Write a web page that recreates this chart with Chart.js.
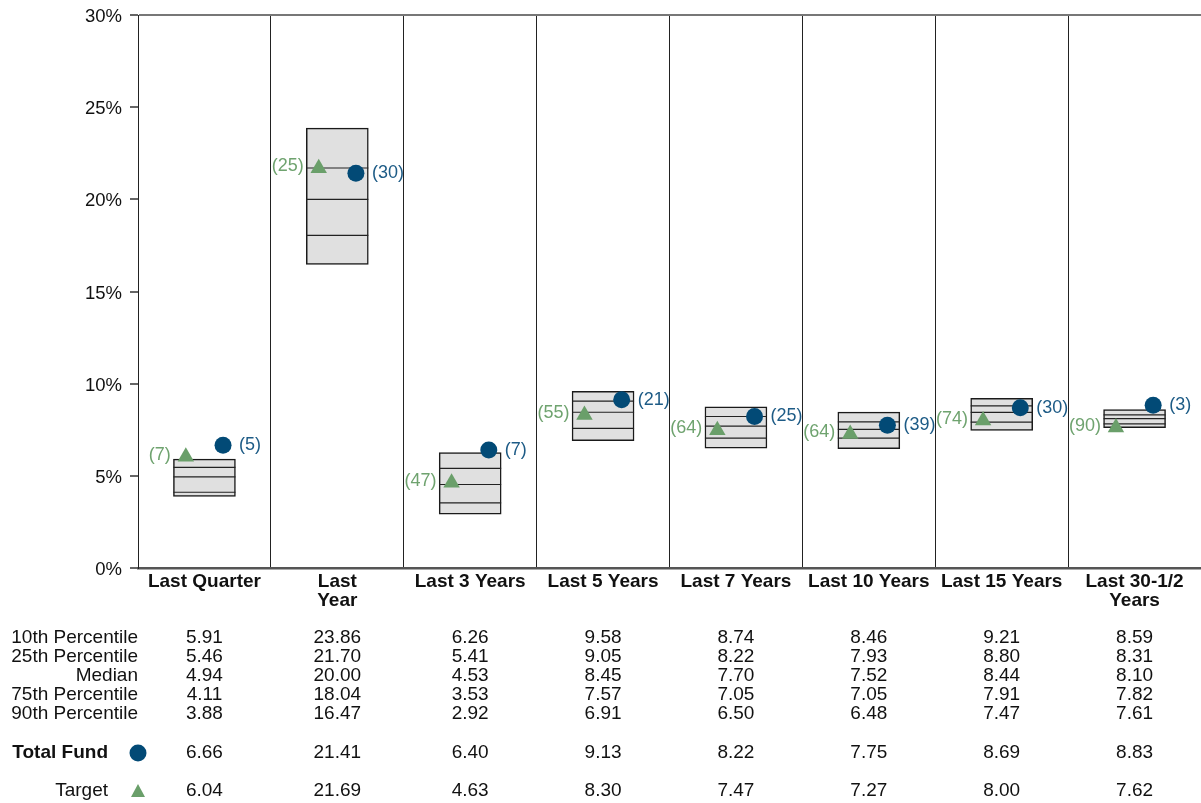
<!DOCTYPE html>
<html>
<head>
<meta charset="utf-8">
<script src="https://cdn.jsdelivr.net/npm/chart.js@4.4.1/dist/chart.umd.min.js"></script>
<style>
  html, body { margin: 0; padding: 0; background: #fff; }
  #wrap { width: 1201px; height: 803px; position: relative; }
</style>
</head>
<body>
<div id="wrap"><canvas id="chart"></canvas></div>
<script>
// Periods and percentile data
const periods = ['Last Quarter', ['Last', 'Year'], 'Last 3 Years', 'Last 5 Years', 'Last 7 Years', 'Last 10 Years', 'Last 15 Years', ['Last 30-1/2', 'Years']];
const p10 = [5.91, 23.86, 6.26, 9.58, 8.74, 8.46, 9.21, 8.59];
const p25 = [5.46, 21.70, 5.41, 9.05, 8.22, 7.93, 8.80, 8.31];
const median = [4.94, 20.00, 4.53, 8.45, 7.70, 7.52, 8.44, 8.10];
const p75 = [4.11, 18.04, 3.53, 7.57, 7.05, 7.05, 7.91, 7.82];
const p90 = [3.88, 16.47, 2.92, 6.91, 6.50, 6.48, 7.47, 7.61];
const totalFund = [6.66, 21.41, 6.40, 9.13, 8.22, 7.75, 8.69, 8.83];
const fundRank = [5, 30, 7, 21, 25, 39, 30, 3];
const target = [6.04, 21.69, 4.63, 8.30, 7.47, 7.27, 8.00, 7.62];
const targetRank = [7, 25, 47, 55, 64, 64, 74, 90];
const yTicks = [0, 5, 10, 15, 20, 25, 30];

const FUND_COLOR = '#024a76';
const FUND_TEXT = '#1d5b86';
const TARGET_COLOR = '#6a9f6a';
const TARGET_TEXT = '#6fa36f';
const FONT = 'Arial, "Liberation Sans", sans-serif';
const SHIFT = 0.14; // side offset of the markers within a column

const idx = periods.map((_, i) => i);

const tableRows = [
  { label: '10th Percentile', values: p10, y: 638 },
  { label: '25th Percentile', values: p25, y: 657 },
  { label: 'Median', values: median, y: 676 },
  { label: '75th Percentile', values: p75, y: 695 },
  { label: '90th Percentile', values: p90, y: 714 },
  { label: 'Total Fund', values: totalFund, y: 753, bold: true, marker: 'circle' },
  { label: 'Target', values: target, y: 791, marker: 'triangle' }
];

// rank labels next to the markers + the table below the plot
const annotate = {
  id: 'annotate',
  afterDatasetsDraw(chart) {
    const { ctx, scales: { x, y } } = chart;
    ctx.save();
    ctx.font = '18px ' + FONT;
    ctx.textBaseline = 'middle';
    idx.forEach(i => {
      ctx.fillStyle = FUND_TEXT;
      ctx.textAlign = 'left';
      ctx.fillText('(' + fundRank[i] + ')', x.getPixelForValue(i + SHIFT) + 16, y.getPixelForValue(totalFund[i]));
      ctx.fillStyle = TARGET_TEXT;
      ctx.textAlign = 'right';
      ctx.fillText('(' + targetRank[i] + ')', x.getPixelForValue(i - SHIFT) - 15, y.getPixelForValue(target[i]) - 2);
    });
    ctx.restore();
  },
  afterDraw(chart) {
    const { ctx, scales: { x } } = chart;
    ctx.save();
    ctx.textBaseline = 'middle';
    tableRows.forEach(row => {
      ctx.fillStyle = '#111';
      ctx.font = (row.bold ? 'bold ' : '') + '19px ' + FONT;
      ctx.textAlign = 'right';
      ctx.fillText(row.label, row.marker ? 108 : 138, row.y);
      ctx.font = '19px ' + FONT;
      ctx.textAlign = 'center';
      row.values.forEach((v, i) => ctx.fillText(v.toFixed(2), x.getPixelForValue(i), row.y));
      if (row.marker === 'circle') {
        ctx.fillStyle = FUND_COLOR;
        ctx.beginPath();
        ctx.arc(138, row.y, 8.5, 0, Math.PI * 2);
        ctx.fill();
      } else if (row.marker === 'triangle') {
        ctx.fillStyle = TARGET_COLOR;
        ctx.beginPath();
        ctx.moveTo(138, row.y - 7);
        ctx.lineTo(145, row.y + 6);
        ctx.lineTo(131, row.y + 6);
        ctx.closePath();
        ctx.fill();
      }
    });
    ctx.restore();
  }
};

const lineSet = (values) => ({
  type: 'scatter',
  data: idx.map(i => ({ x: i, y: values[i] })),
  pointStyle: 'line',
  pointRadius: 31,
  pointHoverRadius: 31,
  borderColor: '#222',
  borderWidth: 1.2,
  order: 1
});

new Chart(document.getElementById('chart'), {
  data: {
    datasets: [
      {
        type: 'bar',
        data: idx.map(i => ({ x: i, y: [p90[i], p10[i]] })),
        backgroundColor: '#e0e0e0',
        borderColor: '#1a1a1a',
        borderWidth: 1.5,
        borderSkipped: false,
        barThickness: 62,
        order: 2
      },
      lineSet(p25),
      lineSet(median),
      lineSet(p75),
      {
        type: 'scatter',
        data: idx.map(i => ({ x: i - SHIFT, y: target[i] })),
        pointStyle: 'triangle',
        pointRadius: 9.5,
        pointHoverRadius: 9.5,
        backgroundColor: TARGET_COLOR,
        borderColor: TARGET_COLOR,
        borderWidth: 0,
        order: 0
      },
      {
        type: 'scatter',
        data: idx.map(i => ({ x: i + SHIFT, y: totalFund[i] })),
        pointStyle: 'circle',
        pointRadius: 8.5,
        pointHoverRadius: 8.5,
        backgroundColor: FUND_COLOR,
        borderColor: FUND_COLOR,
        borderWidth: 0,
        order: 0
      }
    ]
  },
  options: {
    responsive: true,
    maintainAspectRatio: false,
    animation: false,
    layout: { autoPadding: false, padding: { top: 15, right: 0, bottom: 190, left: 0 } },
    plugins: { legend: { display: false }, tooltip: { enabled: false } },
    scales: {
      x: {
        type: 'linear',
        min: -0.5,
        max: 7.5,
        offset: false,
        afterFit: s => { s.height = 45; s.paddingLeft = 0; s.paddingRight = 0; },
        afterBuildTicks: s => { s.ticks = []; for (let k = -1; k <= 15; k++) s.ticks.push({ value: k / 2 }); },
        grid: {
          offset: false,
          color: c => (c.tick && c.tick.value % 1 !== 0 && c.tick.value > -0.5 && c.tick.value < 7.5) ? '#222' : 'rgba(0,0,0,0)',
          lineWidth: 1,
          drawTicks: false
        },
        border: { color: '#555', width: 2.5 },
        ticks: {
          autoSkip: false,
          maxRotation: 0,
          minRotation: 0,
          padding: 4,
          color: '#111',
          font: { family: FONT, size: 19, weight: 'bold', lineHeight: 1.0 },
          callback: v => (Number.isInteger(v) ? periods[v] : '')
        }
      },
      y: {
        min: 0,
        max: 30,
        afterFit: s => { s.width = 138; s.paddingTop = 0; s.paddingBottom = 0; },
        afterBuildTicks: s => { s.ticks = yTicks.map(v => ({ value: v })); },
        grid: {
          color: c => (c.tick && c.tick.value === 30) ? '#777' : 'rgba(0,0,0,0)',
          lineWidth: 2,
          tickColor: '#666',
          tickLength: 8,
          drawTicks: true
        },
        border: { color: '#222', width: 1 },
        ticks: {
          padding: 8,
          labelOffset: 2,
          color: '#111',
          font: { family: FONT, size: 18.5 },
          callback: v => v + '%'
        }
      }
    }
  },
  plugins: [annotate]
});
</script>
</body>
</html>
